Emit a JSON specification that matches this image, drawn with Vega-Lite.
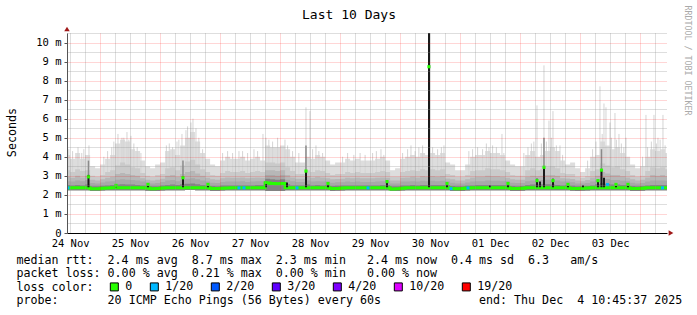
{
  "$schema": "https://vega.github.io/schema/vega-lite/v6.json",
  "width": 600,
  "height": 200,
  "autosize": {"type": "none"},
  "padding": {"left": 67, "top": 33, "right": 30, "bottom": 82},
  "background": "#ffffff",
  "config": {
    "view": {"stroke": null},
    "font": "DejaVu Sans Mono",
    "axis": {"labelFont": "DejaVu Sans Mono", "titleFont": "DejaVu Sans Mono", "titleFontWeight": "normal", "labelColor": "#000000", "titleColor": "#000000"},
    "legend": {"labelFont": "DejaVu Sans Mono"}
  },
  "datasets": {
    "bins": [
      {"t":"2025-11-24T10:00","hi":4.1,"h2":3.3,"h3":2.95,"h4":2.72,"h6":2.52,"lo":2.24,"med":2.36},
      {"t":"2025-11-24T12:00","hi":3.9,"h2":3.2,"h3":2.9,"h4":2.7,"h6":2.5,"lo":2.24,"med":2.37},
      {"t":"2025-11-24T14:00","hi":4.2,"h2":3.35,"h3":3.0,"h4":2.75,"h6":2.52,"lo":2.25,"med":2.37},
      {"t":"2025-11-24T16:00","hi":3.9,"h2":3.25,"h3":2.92,"h4":2.72,"h6":2.5,"lo":2.25,"med":2.37},
      {"t":"2025-11-24T18:00","hi":4.1,"h2":3.3,"h3":3.0,"h4":2.78,"h6":2.55,"lo":2.25,"med":2.38},
      {"t":"2025-11-24T20:00","hi":3.5,"h2":3.0,"h3":2.8,"h4":2.62,"h6":2.46,"lo":2.2,"med":2.32},
      {"t":"2025-11-24T22:00","hi":3.4,"h2":2.95,"h3":2.75,"h4":2.6,"h6":2.45,"lo":2.2,"med":2.32},
      {"t":"2025-11-25T00:00","hi":3.6,"h2":3.05,"h3":2.82,"h4":2.65,"h6":2.48,"lo":2.23,"med":2.35},
      {"t":"2025-11-25T02:00","hi":3.9,"h2":3.2,"h3":2.9,"h4":2.7,"h6":2.5,"lo":2.24,"med":2.36},
      {"t":"2025-11-25T04:00","hi":4.1,"h2":3.3,"h3":2.95,"h4":2.72,"h6":2.52,"lo":2.24,"med":2.37},
      {"t":"2025-11-25T06:00","hi":4.7,"h2":3.55,"h3":3.1,"h4":2.8,"h6":2.55,"lo":2.25,"med":2.37},
      {"t":"2025-11-25T08:00","hi":4.9,"h2":3.7,"h3":3.15,"h4":2.82,"h6":2.56,"lo":2.25,"med":2.38},
      {"t":"2025-11-25T10:00","hi":4.8,"h2":3.6,"h3":3.1,"h4":2.8,"h6":2.55,"lo":2.25,"med":2.37},
      {"t":"2025-11-25T12:00","hi":4.4,"h2":3.45,"h3":3.05,"h4":2.78,"h6":2.54,"lo":2.25,"med":2.37},
      {"t":"2025-11-25T14:00","hi":4.3,"h2":3.4,"h3":3.0,"h4":2.75,"h6":2.52,"lo":2.25,"med":2.37},
      {"t":"2025-11-25T16:00","hi":3.8,"h2":3.15,"h3":2.88,"h4":2.7,"h6":2.5,"lo":2.24,"med":2.37},
      {"t":"2025-11-25T18:00","hi":3.5,"h2":3.0,"h3":2.8,"h4":2.65,"h6":2.48,"lo":2.22,"med":2.36},
      {"t":"2025-11-25T20:00","hi":3.4,"h2":2.95,"h3":2.75,"h4":2.6,"h6":2.45,"lo":2.2,"med":2.32},
      {"t":"2025-11-25T22:00","hi":3.6,"h2":3.05,"h3":2.8,"h4":2.63,"h6":2.46,"lo":2.2,"med":2.33},
      {"t":"2025-11-26T00:00","hi":3.7,"h2":3.1,"h3":2.85,"h4":2.68,"h6":2.5,"lo":2.23,"med":2.36},
      {"t":"2025-11-26T02:00","hi":4.3,"h2":3.4,"h3":3.0,"h4":2.75,"h6":2.52,"lo":2.24,"med":2.37},
      {"t":"2025-11-26T04:00","hi":4.4,"h2":3.45,"h3":3.05,"h4":2.78,"h6":2.54,"lo":2.25,"med":2.37},
      {"t":"2025-11-26T06:00","hi":4.1,"h2":3.3,"h3":2.95,"h4":2.72,"h6":2.52,"lo":2.25,"med":2.37},
      {"t":"2025-11-26T08:00","hi":4.6,"h2":3.55,"h3":3.1,"h4":2.8,"h6":2.56,"lo":2.25,"med":2.38},
      {"t":"2025-11-26T10:00","hi":5.0,"h2":3.75,"h3":3.2,"h4":2.85,"h6":2.58,"lo":2.26,"med":2.38},
      {"t":"2025-11-26T12:00","hi":5.3,"h2":3.85,"h3":3.25,"h4":2.88,"h6":2.6,"lo":2.26,"med":2.38},
      {"t":"2025-11-26T14:00","hi":4.8,"h2":3.6,"h3":3.12,"h4":2.82,"h6":2.56,"lo":2.25,"med":2.37},
      {"t":"2025-11-26T16:00","hi":4.2,"h2":3.35,"h3":3.0,"h4":2.75,"h6":2.52,"lo":2.25,"med":2.37},
      {"t":"2025-11-26T18:00","hi":3.9,"h2":3.2,"h3":2.9,"h4":2.7,"h6":2.5,"lo":2.24,"med":2.37},
      {"t":"2025-11-26T20:00","hi":3.6,"h2":3.05,"h3":2.82,"h4":2.64,"h6":2.47,"lo":2.21,"med":2.33},
      {"t":"2025-11-26T22:00","hi":3.5,"h2":3.0,"h3":2.8,"h4":2.62,"h6":2.46,"lo":2.21,"med":2.33},
      {"t":"2025-11-27T00:00","hi":3.8,"h2":3.15,"h3":2.88,"h4":2.68,"h6":2.5,"lo":2.23,"med":2.35},
      {"t":"2025-11-27T02:00","hi":4.0,"h2":3.25,"h3":2.92,"h4":2.7,"h6":2.5,"lo":2.24,"med":2.36},
      {"t":"2025-11-27T04:00","hi":3.9,"h2":3.2,"h3":2.9,"h4":2.7,"h6":2.5,"lo":2.24,"med":2.37},
      {"t":"2025-11-27T06:00","hi":3.9,"h2":3.2,"h3":2.9,"h4":2.7,"h6":2.5,"lo":2.24,"med":2.37},
      {"t":"2025-11-27T08:00","hi":4.0,"h2":3.25,"h3":2.92,"h4":2.72,"h6":2.5,"lo":2.24,"med":2.37},
      {"t":"2025-11-27T10:00","hi":3.8,"h2":3.15,"h3":2.88,"h4":2.68,"h6":2.5,"lo":2.24,"med":2.37},
      {"t":"2025-11-27T12:00","hi":3.9,"h2":3.2,"h3":2.9,"h4":2.7,"h6":2.5,"lo":2.24,"med":2.37},
      {"t":"2025-11-27T14:00","hi":4.0,"h2":3.25,"h3":2.92,"h4":2.72,"h6":2.52,"lo":2.24,"med":2.37},
      {"t":"2025-11-27T16:00","hi":3.8,"h2":3.2,"h3":2.9,"h4":2.72,"h6":2.52,"lo":2.24,"med":2.38},
      {"t":"2025-11-27T18:00","hi":4.6,"h2":3.7,"h3":3.3,"h4":3.05,"h6":2.85,"lo":2.2,"med":2.62},
      {"t":"2025-11-27T20:00","hi":4.5,"h2":3.7,"h3":3.3,"h4":3.05,"h6":2.82,"lo":2.2,"med":2.6},
      {"t":"2025-11-27T22:00","hi":4.5,"h2":3.65,"h3":3.25,"h4":3.0,"h6":2.8,"lo":2.2,"med":2.58},
      {"t":"2025-11-28T00:00","hi":4.6,"h2":3.7,"h3":3.3,"h4":3.05,"h6":2.82,"lo":2.2,"med":2.6},
      {"t":"2025-11-28T02:00","hi":4.4,"h2":3.45,"h3":3.05,"h4":2.8,"h6":2.56,"lo":2.24,"med":2.38},
      {"t":"2025-11-28T04:00","hi":4.0,"h2":3.25,"h3":2.92,"h4":2.72,"h6":2.5,"lo":2.24,"med":2.37},
      {"t":"2025-11-28T06:00","hi":3.7,"h2":3.1,"h3":2.85,"h4":2.68,"h6":2.5,"lo":2.24,"med":2.37},
      {"t":"2025-11-28T08:00","hi":3.7,"h2":3.1,"h3":2.85,"h4":2.68,"h6":2.5,"lo":2.24,"med":2.37},
      {"t":"2025-11-28T10:00","hi":4.0,"h2":3.3,"h3":2.98,"h4":2.76,"h6":2.55,"lo":2.24,"med":2.37},
      {"t":"2025-11-28T12:00","hi":3.9,"h2":3.2,"h3":2.9,"h4":2.7,"h6":2.5,"lo":2.24,"med":2.37},
      {"t":"2025-11-28T14:00","hi":4.1,"h2":3.3,"h3":2.95,"h4":2.72,"h6":2.52,"lo":2.24,"med":2.37},
      {"t":"2025-11-28T16:00","hi":4.0,"h2":3.25,"h3":2.92,"h4":2.7,"h6":2.5,"lo":2.24,"med":2.37},
      {"t":"2025-11-28T18:00","hi":3.8,"h2":3.15,"h3":2.88,"h4":2.7,"h6":2.52,"lo":2.24,"med":2.38},
      {"t":"2025-11-28T20:00","hi":3.6,"h2":3.05,"h3":2.82,"h4":2.64,"h6":2.47,"lo":2.21,"med":2.33},
      {"t":"2025-11-28T22:00","hi":3.7,"h2":3.1,"h3":2.84,"h4":2.66,"h6":2.48,"lo":2.22,"med":2.34},
      {"t":"2025-11-29T00:00","hi":3.7,"h2":3.1,"h3":2.85,"h4":2.67,"h6":2.49,"lo":2.23,"med":2.36},
      {"t":"2025-11-29T02:00","hi":3.9,"h2":3.2,"h3":2.9,"h4":2.7,"h6":2.5,"lo":2.24,"med":2.37},
      {"t":"2025-11-29T04:00","hi":3.8,"h2":3.15,"h3":2.88,"h4":2.68,"h6":2.5,"lo":2.24,"med":2.37},
      {"t":"2025-11-29T06:00","hi":3.9,"h2":3.2,"h3":2.9,"h4":2.7,"h6":2.5,"lo":2.24,"med":2.37},
      {"t":"2025-11-29T08:00","hi":3.8,"h2":3.15,"h3":2.88,"h4":2.68,"h6":2.5,"lo":2.24,"med":2.37},
      {"t":"2025-11-29T10:00","hi":3.8,"h2":3.15,"h3":2.88,"h4":2.68,"h6":2.5,"lo":2.24,"med":2.37},
      {"t":"2025-11-29T12:00","hi":3.8,"h2":3.15,"h3":2.88,"h4":2.68,"h6":2.5,"lo":2.24,"med":2.37},
      {"t":"2025-11-29T14:00","hi":3.9,"h2":3.2,"h3":2.9,"h4":2.7,"h6":2.5,"lo":2.24,"med":2.37},
      {"t":"2025-11-29T16:00","hi":4.0,"h2":3.25,"h3":2.92,"h4":2.72,"h6":2.52,"lo":2.24,"med":2.37},
      {"t":"2025-11-29T18:00","hi":3.8,"h2":3.2,"h3":2.9,"h4":2.72,"h6":2.52,"lo":2.24,"med":2.38},
      {"t":"2025-11-29T20:00","hi":3.3,"h2":2.95,"h3":2.75,"h4":2.6,"h6":2.45,"lo":2.2,"med":2.31},
      {"t":"2025-11-29T22:00","hi":3.4,"h2":2.95,"h3":2.75,"h4":2.6,"h6":2.45,"lo":2.2,"med":2.32},
      {"t":"2025-11-30T00:00","hi":3.9,"h2":3.2,"h3":2.9,"h4":2.7,"h6":2.5,"lo":2.23,"med":2.35},
      {"t":"2025-11-30T02:00","hi":4.0,"h2":3.25,"h3":2.92,"h4":2.7,"h6":2.5,"lo":2.24,"med":2.37},
      {"t":"2025-11-30T04:00","hi":4.1,"h2":3.3,"h3":2.95,"h4":2.72,"h6":2.52,"lo":2.24,"med":2.37},
      {"t":"2025-11-30T06:00","hi":4.0,"h2":3.25,"h3":2.92,"h4":2.7,"h6":2.5,"lo":2.24,"med":2.37},
      {"t":"2025-11-30T08:00","hi":4.2,"h2":3.35,"h3":2.98,"h4":2.74,"h6":2.52,"lo":2.24,"med":2.37},
      {"t":"2025-11-30T10:00","hi":4.1,"h2":3.3,"h3":2.95,"h4":2.72,"h6":2.52,"lo":2.24,"med":2.37},
      {"t":"2025-11-30T12:00","hi":4.2,"h2":3.35,"h3":2.98,"h4":2.74,"h6":2.52,"lo":2.24,"med":2.37},
      {"t":"2025-11-30T14:00","hi":4.1,"h2":3.3,"h3":2.95,"h4":2.72,"h6":2.52,"lo":2.24,"med":2.37},
      {"t":"2025-11-30T16:00","hi":4.2,"h2":3.35,"h3":2.98,"h4":2.74,"h6":2.52,"lo":2.24,"med":2.37},
      {"t":"2025-11-30T18:00","hi":3.7,"h2":3.1,"h3":2.86,"h4":2.7,"h6":2.52,"lo":2.24,"med":2.38},
      {"t":"2025-11-30T20:00","hi":3.6,"h2":3.05,"h3":2.82,"h4":2.64,"h6":2.47,"lo":2.21,"med":2.33},
      {"t":"2025-11-30T22:00","hi":3.3,"h2":2.95,"h3":2.75,"h4":2.6,"h6":2.45,"lo":2.2,"med":2.32},
      {"t":"2025-12-01T00:00","hi":3.3,"h2":2.95,"h3":2.75,"h4":2.6,"h6":2.45,"lo":2.21,"med":2.33},
      {"t":"2025-12-01T02:00","hi":3.6,"h2":3.05,"h3":2.82,"h4":2.65,"h6":2.48,"lo":2.23,"med":2.36},
      {"t":"2025-12-01T04:00","hi":4.0,"h2":3.25,"h3":2.92,"h4":2.7,"h6":2.5,"lo":2.24,"med":2.37},
      {"t":"2025-12-01T06:00","hi":4.1,"h2":3.3,"h3":2.95,"h4":2.72,"h6":2.52,"lo":2.24,"med":2.37},
      {"t":"2025-12-01T08:00","hi":4.1,"h2":3.3,"h3":2.95,"h4":2.72,"h6":2.52,"lo":2.24,"med":2.37},
      {"t":"2025-12-01T10:00","hi":4.3,"h2":3.4,"h3":3.0,"h4":2.75,"h6":2.52,"lo":2.24,"med":2.37},
      {"t":"2025-12-01T12:00","hi":4.2,"h2":3.35,"h3":2.98,"h4":2.74,"h6":2.52,"lo":2.24,"med":2.37},
      {"t":"2025-12-01T14:00","hi":4.2,"h2":3.35,"h3":2.98,"h4":2.74,"h6":2.52,"lo":2.24,"med":2.37},
      {"t":"2025-12-01T16:00","hi":4.1,"h2":3.3,"h3":2.95,"h4":2.72,"h6":2.52,"lo":2.24,"med":2.37},
      {"t":"2025-12-01T18:00","hi":3.8,"h2":3.2,"h3":2.9,"h4":2.72,"h6":2.52,"lo":2.24,"med":2.38},
      {"t":"2025-12-01T20:00","hi":3.6,"h2":3.05,"h3":2.82,"h4":2.64,"h6":2.47,"lo":2.21,"med":2.33},
      {"t":"2025-12-01T22:00","hi":3.5,"h2":3.0,"h3":2.8,"h4":2.62,"h6":2.46,"lo":2.21,"med":2.33},
      {"t":"2025-12-02T00:00","hi":3.5,"h2":3.0,"h3":2.8,"h4":2.63,"h6":2.47,"lo":2.22,"med":2.35},
      {"t":"2025-12-02T02:00","hi":4.1,"h2":3.3,"h3":2.95,"h4":2.72,"h6":2.52,"lo":2.24,"med":2.37},
      {"t":"2025-12-02T04:00","hi":4.3,"h2":3.4,"h3":3.0,"h4":2.76,"h6":2.54,"lo":2.24,"med":2.37},
      {"t":"2025-12-02T06:00","hi":4.0,"h2":3.3,"h3":2.98,"h4":2.76,"h6":2.55,"lo":2.24,"med":2.38},
      {"t":"2025-12-02T08:00","hi":4.1,"h2":3.35,"h3":3.0,"h4":2.78,"h6":2.56,"lo":2.24,"med":2.38},
      {"t":"2025-12-02T10:00","hi":4.3,"h2":3.45,"h3":3.05,"h4":2.8,"h6":2.56,"lo":2.24,"med":2.38},
      {"t":"2025-12-02T12:00","hi":4.5,"h2":3.5,"h3":3.05,"h4":2.78,"h6":2.55,"lo":2.24,"med":2.37},
      {"t":"2025-12-02T14:00","hi":4.3,"h2":3.4,"h3":3.0,"h4":2.75,"h6":2.52,"lo":2.24,"med":2.37},
      {"t":"2025-12-02T16:00","hi":3.8,"h2":3.15,"h3":2.88,"h4":2.7,"h6":2.5,"lo":2.24,"med":2.37},
      {"t":"2025-12-02T18:00","hi":3.6,"h2":3.1,"h3":2.86,"h4":2.7,"h6":2.52,"lo":2.24,"med":2.38},
      {"t":"2025-12-02T20:00","hi":3.7,"h2":3.1,"h3":2.84,"h4":2.66,"h6":2.48,"lo":2.22,"med":2.34},
      {"t":"2025-12-02T22:00","hi":3.4,"h2":2.95,"h3":2.75,"h4":2.6,"h6":2.45,"lo":2.21,"med":2.33},
      {"t":"2025-12-03T00:00","hi":3.2,"h2":2.9,"h3":2.72,"h4":2.6,"h6":2.46,"lo":2.22,"med":2.35},
      {"t":"2025-12-03T02:00","hi":3.4,"h2":2.98,"h3":2.78,"h4":2.62,"h6":2.47,"lo":2.23,"med":2.36},
      {"t":"2025-12-03T04:00","hi":4.0,"h2":3.25,"h3":2.92,"h4":2.7,"h6":2.5,"lo":2.24,"med":2.37},
      {"t":"2025-12-03T06:00","hi":4.1,"h2":3.35,"h3":3.0,"h4":2.78,"h6":2.56,"lo":2.24,"med":2.38},
      {"t":"2025-12-03T08:00","hi":4.8,"h2":3.65,"h3":3.2,"h4":2.9,"h6":2.62,"lo":2.24,"med":2.38},
      {"t":"2025-12-03T10:00","hi":4.6,"h2":3.55,"h3":3.12,"h4":2.84,"h6":2.58,"lo":2.24,"med":2.38},
      {"t":"2025-12-03T12:00","hi":4.4,"h2":3.45,"h3":3.05,"h4":2.78,"h6":2.54,"lo":2.24,"med":2.37},
      {"t":"2025-12-03T14:00","hi":4.5,"h2":3.5,"h3":3.05,"h4":2.78,"h6":2.54,"lo":2.24,"med":2.37},
      {"t":"2025-12-03T16:00","hi":4.2,"h2":3.35,"h3":2.98,"h4":2.74,"h6":2.52,"lo":2.24,"med":2.37},
      {"t":"2025-12-03T18:00","hi":4.0,"h2":3.25,"h3":2.92,"h4":2.72,"h6":2.52,"lo":2.24,"med":2.38},
      {"t":"2025-12-03T20:00","hi":3.6,"h2":3.05,"h3":2.82,"h4":2.64,"h6":2.47,"lo":2.21,"med":2.33},
      {"t":"2025-12-03T22:00","hi":3.4,"h2":2.95,"h3":2.75,"h4":2.6,"h6":2.45,"lo":2.21,"med":2.33},
      {"t":"2025-12-04T00:00","hi":3.5,"h2":3.0,"h3":2.8,"h4":2.63,"h6":2.47,"lo":2.22,"med":2.35},
      {"t":"2025-12-04T02:00","hi":4.0,"h2":3.25,"h3":2.92,"h4":2.7,"h6":2.5,"lo":2.24,"med":2.37},
      {"t":"2025-12-04T04:00","hi":4.4,"h2":3.45,"h3":3.05,"h4":2.76,"h6":2.52,"lo":2.24,"med":2.37},
      {"t":"2025-12-04T06:00","hi":4.3,"h2":3.4,"h3":3.0,"h4":2.75,"h6":2.52,"lo":2.24,"med":2.37},
      {"t":"2025-12-04T08:00","hi":4.4,"h2":3.45,"h3":3.05,"h4":2.76,"h6":2.52,"lo":2.24,"med":2.37},
      {"t":"2025-12-04T10:00","hi":4.2,"h2":3.35,"h3":2.98,"h4":2.74,"h6":2.52,"lo":2.24,"med":2.37},
      {"t":"2025-12-04T12:00","hi":4.2,"h2":3.35,"h3":2.98,"h4":2.74,"h6":2.52,"lo":2.24,"med":2.37}
    ],
    "spikes": [
      {"t":"2025-11-24T11:30","k":"light","lo":2.3,"hi":4.4},
      {"t":"2025-11-24T13:00","k":"light","lo":2.3,"hi":4.3},
      {"t":"2025-11-24T15:10","k":"light","lo":2.3,"hi":4.5},
      {"t":"2025-11-24T16:40","k":"light","lo":2.3,"hi":4.2},
      {"t":"2025-11-24T17:30","k":"light","lo":2.3,"hi":4.4},
      {"t":"2025-11-24T19:33","k":"light","lo":2.3,"hi":4.6},
      {"t":"2025-11-25T01:30","k":"light","lo":2.3,"hi":4.0},
      {"t":"2025-11-25T03:00","k":"light","lo":2.3,"hi":4.3},
      {"t":"2025-11-25T04:40","k":"light","lo":2.3,"hi":4.5},
      {"t":"2025-11-25T05:30","k":"light","lo":2.3,"hi":4.8},
      {"t":"2025-11-25T07:09","k":"light","lo":2.3,"hi":5.2},
      {"t":"2025-11-25T08:45","k":"light","lo":2.3,"hi":5.0},
      {"t":"2025-11-25T09:30","k":"light","lo":2.3,"hi":5.0},
      {"t":"2025-11-25T10:45","k":"light","lo":2.3,"hi":5.3},
      {"t":"2025-11-25T11:30","k":"light","lo":2.3,"hi":4.9},
      {"t":"2025-11-25T12:21","k":"light","lo":2.3,"hi":5.1},
      {"t":"2025-11-25T13:30","k":"light","lo":2.3,"hi":4.7},
      {"t":"2025-11-25T14:50","k":"light","lo":2.3,"hi":4.5},
      {"t":"2025-11-25T16:20","k":"light","lo":2.3,"hi":4.2},
      {"t":"2025-11-26T02:30","k":"light","lo":2.3,"hi":4.6},
      {"t":"2025-11-26T03:40","k":"light","lo":2.3,"hi":4.7},
      {"t":"2025-11-26T05:00","k":"light","lo":2.3,"hi":4.5},
      {"t":"2025-11-26T06:45","k":"light","lo":2.3,"hi":4.8},
      {"t":"2025-11-26T07:30","k":"light","lo":2.3,"hi":4.9},
      {"t":"2025-11-26T08:45","k":"light","lo":2.3,"hi":5.2},
      {"t":"2025-11-26T10:21","k":"light","lo":2.3,"hi":5.4},
      {"t":"2025-11-26T11:00","k":"light","lo":2.3,"hi":5.6},
      {"t":"2025-11-26T12:21","k":"light","lo":2.3,"hi":5.8},
      {"t":"2025-11-26T13:09","k":"light","lo":2.3,"hi":6.0},
      {"t":"2025-11-26T14:21","k":"light","lo":2.3,"hi":5.5},
      {"t":"2025-11-26T15:30","k":"light","lo":2.3,"hi":5.0},
      {"t":"2025-11-26T17:00","k":"light","lo":2.3,"hi":4.4},
      {"t":"2025-11-27T01:00","k":"light","lo":2.3,"hi":4.2},
      {"t":"2025-11-27T03:00","k":"light","lo":2.3,"hi":4.3},
      {"t":"2025-11-27T05:00","k":"light","lo":2.3,"hi":4.2},
      {"t":"2025-11-27T07:33","k":"light","lo":2.3,"hi":4.3},
      {"t":"2025-11-27T09:00","k":"light","lo":2.3,"hi":4.3},
      {"t":"2025-11-27T11:00","k":"light","lo":2.3,"hi":4.2},
      {"t":"2025-11-27T13:33","k":"light","lo":2.3,"hi":4.4},
      {"t":"2025-11-27T15:00","k":"light","lo":2.3,"hi":4.3},
      {"t":"2025-11-27T17:09","k":"light","lo":2.3,"hi":5.2},
      {"t":"2025-11-27T18:21","k":"light","lo":2.3,"hi":5.0},
      {"t":"2025-11-27T19:30","k":"light","lo":2.3,"hi":4.9},
      {"t":"2025-11-27T21:00","k":"light","lo":2.3,"hi":4.8},
      {"t":"2025-11-27T23:00","k":"light","lo":2.3,"hi":5.0},
      {"t":"2025-11-28T01:57","k":"light","lo":2.3,"hi":4.9},
      {"t":"2025-11-28T03:00","k":"light","lo":2.3,"hi":4.6},
      {"t":"2025-11-28T05:00","k":"light","lo":2.3,"hi":4.3},
      {"t":"2025-11-28T07:30","k":"light","lo":2.3,"hi":4.2},
      {"t":"2025-11-28T10:21","k":"light","lo":2.3,"hi":6.6},
      {"t":"2025-11-28T11:57","k":"light","lo":2.3,"hi":6.4},
      {"t":"2025-11-28T13:00","k":"light","lo":2.3,"hi":4.4},
      {"t":"2025-11-28T14:21","k":"light","lo":2.3,"hi":4.6},
      {"t":"2025-11-28T15:30","k":"light","lo":2.3,"hi":4.3},
      {"t":"2025-11-28T17:00","k":"light","lo":2.3,"hi":4.2},
      {"t":"2025-11-29T01:00","k":"light","lo":2.3,"hi":4.0},
      {"t":"2025-11-29T03:00","k":"light","lo":2.3,"hi":4.2},
      {"t":"2025-11-29T05:30","k":"light","lo":2.3,"hi":4.1},
      {"t":"2025-11-29T08:00","k":"light","lo":2.3,"hi":4.2},
      {"t":"2025-11-29T10:00","k":"light","lo":2.3,"hi":4.1},
      {"t":"2025-11-29T13:00","k":"light","lo":2.3,"hi":4.2},
      {"t":"2025-11-29T14:30","k":"light","lo":2.3,"hi":4.3},
      {"t":"2025-11-29T16:21","k":"light","lo":2.3,"hi":4.4},
      {"t":"2025-11-29T17:30","k":"light","lo":2.3,"hi":4.1},
      {"t":"2025-11-30T01:00","k":"light","lo":2.3,"hi":4.2},
      {"t":"2025-11-30T03:00","k":"light","lo":2.3,"hi":4.4},
      {"t":"2025-11-30T04:21","k":"light","lo":2.3,"hi":4.6},
      {"t":"2025-11-30T06:00","k":"light","lo":2.3,"hi":4.3},
      {"t":"2025-11-30T07:30","k":"light","lo":2.3,"hi":4.5},
      {"t":"2025-11-30T09:00","k":"light","lo":2.3,"hi":4.6},
      {"t":"2025-11-30T13:00","k":"light","lo":2.3,"hi":4.5},
      {"t":"2025-11-30T15:00","k":"light","lo":2.3,"hi":4.4},
      {"t":"2025-11-30T16:30","k":"light","lo":2.3,"hi":4.5},
      {"t":"2025-11-30T17:33","k":"light","lo":2.3,"hi":4.6},
      {"t":"2025-12-01T03:30","k":"light","lo":2.3,"hi":4.3},
      {"t":"2025-12-01T05:00","k":"light","lo":2.3,"hi":4.4},
      {"t":"2025-12-01T07:00","k":"light","lo":2.3,"hi":4.5},
      {"t":"2025-12-01T09:00","k":"light","lo":2.3,"hi":4.4},
      {"t":"2025-12-01T10:30","k":"light","lo":2.3,"hi":4.7},
      {"t":"2025-12-01T11:33","k":"light","lo":2.3,"hi":4.5},
      {"t":"2025-12-01T13:00","k":"light","lo":2.3,"hi":4.6},
      {"t":"2025-12-01T14:30","k":"light","lo":2.3,"hi":4.5},
      {"t":"2025-12-01T16:45","k":"light","lo":2.3,"hi":5.2},
      {"t":"2025-12-01T17:30","k":"light","lo":2.3,"hi":4.2},
      {"t":"2025-12-02T01:30","k":"light","lo":2.3,"hi":4.2},
      {"t":"2025-12-02T03:09","k":"light","lo":2.3,"hi":4.5},
      {"t":"2025-12-02T04:30","k":"light","lo":2.3,"hi":4.7},
      {"t":"2025-12-02T05:30","k":"light","lo":2.3,"hi":4.8},
      {"t":"2025-12-02T06:45","k":"light","lo":2.3,"hi":6.7},
      {"t":"2025-12-02T08:30","k":"light","lo":2.3,"hi":4.7},
      {"t":"2025-12-02T09:33","k":"light","lo":2.3,"hi":8.8},
      {"t":"2025-12-02T10:30","k":"light","lo":2.3,"hi":4.8},
      {"t":"2025-12-02T11:33","k":"light","lo":2.3,"hi":5.9},
      {"t":"2025-12-02T12:30","k":"light","lo":2.3,"hi":5.0},
      {"t":"2025-12-02T13:09","k":"light","lo":2.3,"hi":6.4},
      {"t":"2025-12-02T14:30","k":"light","lo":2.3,"hi":4.6},
      {"t":"2025-12-02T15:57","k":"light","lo":2.3,"hi":4.6},
      {"t":"2025-12-02T17:00","k":"light","lo":2.3,"hi":4.1},
      {"t":"2025-12-03T03:00","k":"light","lo":2.3,"hi":3.8},
      {"t":"2025-12-03T05:00","k":"light","lo":2.3,"hi":4.4},
      {"t":"2025-12-03T06:21","k":"light","lo":2.3,"hi":4.8},
      {"t":"2025-12-03T07:57","k":"light","lo":2.3,"hi":7.7},
      {"t":"2025-12-03T08:50","k":"light","lo":2.3,"hi":5.2},
      {"t":"2025-12-03T09:33","k":"light","lo":2.3,"hi":6.8},
      {"t":"2025-12-03T10:21","k":"light","lo":2.3,"hi":6.6},
      {"t":"2025-12-03T11:57","k":"light","lo":2.3,"hi":5.8},
      {"t":"2025-12-03T12:30","k":"light","lo":2.3,"hi":5.0},
      {"t":"2025-12-03T13:57","k":"light","lo":2.3,"hi":6.3},
      {"t":"2025-12-03T14:30","k":"light","lo":2.3,"hi":4.9},
      {"t":"2025-12-03T15:33","k":"light","lo":2.3,"hi":5.2},
      {"t":"2025-12-03T16:30","k":"light","lo":2.3,"hi":4.7},
      {"t":"2025-12-03T17:30","k":"light","lo":2.3,"hi":4.5},
      {"t":"2025-12-03T18:21","k":"light","lo":2.3,"hi":5.0},
      {"t":"2025-12-04T01:00","k":"light","lo":2.3,"hi":4.0},
      {"t":"2025-12-04T02:21","k":"light","lo":2.3,"hi":6.2},
      {"t":"2025-12-04T03:00","k":"light","lo":2.3,"hi":4.5},
      {"t":"2025-12-04T04:30","k":"light","lo":2.3,"hi":4.8},
      {"t":"2025-12-04T05:33","k":"light","lo":2.3,"hi":6.2},
      {"t":"2025-12-04T06:30","k":"light","lo":2.3,"hi":4.7},
      {"t":"2025-12-04T07:09","k":"light","lo":2.3,"hi":5.0},
      {"t":"2025-12-04T08:00","k":"light","lo":2.3,"hi":4.9},
      {"t":"2025-12-04T09:09","k":"light","lo":2.3,"hi":6.2},
      {"t":"2025-12-04T10:00","k":"light","lo":2.3,"hi":4.6},
      {"t":"2025-11-24T19:21","k":"mid","lo":2.9,"hi":3.8},
      {"t":"2025-11-26T09:09","k":"mid","lo":2.9,"hi":3.8},
      {"t":"2025-11-28T10:21","k":"mid","lo":3.2,"hi":4.6},
      {"t":"2025-12-02T09:33","k":"mid","lo":3.4,"hi":5.0},
      {"t":"2025-12-03T08:33","k":"mid","lo":3.2,"hi":4.4},
      {"t":"2025-11-24T19:21","k":"dark","lo":2.4,"hi":3.05,"med":2.95},
      {"t":"2025-11-25T06:21","k":"dark","lo":2.4,"hi":2.55,"med":2.5},
      {"t":"2025-11-25T19:09","k":"dark","lo":2.4,"hi":2.6,"med":2.55},
      {"t":"2025-11-26T09:09","k":"dark","lo":2.4,"hi":2.95,"med":2.9},
      {"t":"2025-11-26T19:09","k":"dark","lo":2.4,"hi":2.6,"med":2.55},
      {"t":"2025-11-27T18:21","k":"dark","lo":2.4,"hi":2.7,"med":2.65},
      {"t":"2025-11-28T02:45","k":"dark","lo":2.4,"hi":2.65},
      {"t":"2025-11-28T10:21","k":"dark","lo":2.4,"hi":3.3,"med":3.25},
      {"t":"2025-11-28T19:09","k":"dark","lo":2.4,"hi":2.65,"med":2.6},
      {"t":"2025-11-29T18:45","k":"dark","lo":2.4,"hi":2.75,"med":2.7},
      {"t":"2025-11-30T11:33","k":"dark","lo":2.4,"hi":11,"med":8.73},
      {"t":"2025-11-30T18:45","k":"dark","lo":2.4,"hi":2.65,"med":2.6},
      {"t":"2025-12-01T11:57","k":"dark","lo":2.4,"hi":2.5},
      {"t":"2025-12-01T19:09","k":"dark","lo":2.4,"hi":2.65,"med":2.6},
      {"t":"2025-12-02T06:45","k":"dark","lo":2.4,"hi":2.85,"med":2.75},
      {"t":"2025-12-02T07:57","k":"dark","lo":2.4,"hi":2.7},
      {"t":"2025-12-02T09:33","k":"dark","lo":2.4,"hi":3.5,"med":3.45},
      {"t":"2025-12-02T13:09","k":"dark","lo":2.4,"hi":2.85,"med":2.75},
      {"t":"2025-12-02T19:09","k":"dark","lo":2.4,"hi":2.6,"med":2.55},
      {"t":"2025-12-03T01:09","k":"dark","lo":2.4,"hi":2.5},
      {"t":"2025-12-03T07:09","k":"dark","lo":2.4,"hi":2.8,"med":2.75},
      {"t":"2025-12-03T08:33","k":"dark","lo":2.4,"hi":3.35,"med":3.3},
      {"t":"2025-12-03T09:33","k":"dark","lo":2.4,"hi":2.9},
      {"t":"2025-12-03T14:21","k":"dark","lo":2.4,"hi":2.6,"med":2.55},
      {"t":"2025-12-03T19:09","k":"dark","lo":2.4,"hi":2.6,"med":2.55}
    ],
    "loss": [
      {"t":"2025-11-24T11:09","med":2.37,"loss":"1/20"},
      {"t":"2025-11-27T07:33","med":2.37,"loss":"1/20"},
      {"t":"2025-11-27T09:33","med":2.37,"loss":"1/20"},
      {"t":"2025-11-28T06:45","med":2.37,"loss":"1/20"},
      {"t":"2025-11-29T11:09","med":2.37,"loss":"1/20"},
      {"t":"2025-11-30T20:21","med":2.33,"loss":"1/20"},
      {"t":"2025-12-01T03:09","med":2.37,"loss":"1/20"},
      {"t":"2025-12-03T10:57","med":2.54,"loss":"1/20"},
      {"t":"2025-12-04T08:57","med":2.37,"loss":"1/20"}
    ],
    "arrows": [
      {"t":"2025-11-24T10:45:37","v":10.5,"dir":"up"},
      {"t":"2025-12-04T10:45:37","v":0,"dir":"right"}
    ]
  },
  "layer": [
    {
      "data": {"name": "bins"},
      "mark": {"type": "area", "interpolate": "step-after", "color": "#dddddd", "clip": true},
      "encoding": {
        "x": {"field": "t", "type": "temporal", "scale": {"domain": [{"year":2025,"month":11,"date":24,"hours":10,"minutes":45,"seconds":37},{"year":2025,"month":12,"date":4,"hours":10,"minutes":45,"seconds":37}]},
          "axis": {"orient":"bottom","values":[
            {"year":2025,"month":11,"date":24,"hours":12},{"year":2025,"month":11,"date":24,"hours":18},
            {"year":2025,"month":11,"date":25,"hours":6},{"year":2025,"month":11,"date":25,"hours":12},{"year":2025,"month":11,"date":25,"hours":18},
            {"year":2025,"month":11,"date":26,"hours":6},{"year":2025,"month":11,"date":26,"hours":12},{"year":2025,"month":11,"date":26,"hours":18},
            {"year":2025,"month":11,"date":27,"hours":6},{"year":2025,"month":11,"date":27,"hours":12},{"year":2025,"month":11,"date":27,"hours":18},
            {"year":2025,"month":11,"date":28,"hours":6},{"year":2025,"month":11,"date":28,"hours":12},{"year":2025,"month":11,"date":28,"hours":18},
            {"year":2025,"month":11,"date":29,"hours":6},{"year":2025,"month":11,"date":29,"hours":12},{"year":2025,"month":11,"date":29,"hours":18},
            {"year":2025,"month":11,"date":30,"hours":6},{"year":2025,"month":11,"date":30,"hours":12},{"year":2025,"month":11,"date":30,"hours":18},
            {"year":2025,"month":12,"date":1,"hours":6},{"year":2025,"month":12,"date":1,"hours":12},{"year":2025,"month":12,"date":1,"hours":18},
            {"year":2025,"month":12,"date":2,"hours":6},{"year":2025,"month":12,"date":2,"hours":12},{"year":2025,"month":12,"date":2,"hours":18},
            {"year":2025,"month":12,"date":3,"hours":6},{"year":2025,"month":12,"date":3,"hours":12},{"year":2025,"month":12,"date":3,"hours":18},
            {"year":2025,"month":12,"date":4,"hours":6}],
            "grid":true,"gridColor":"#909090","gridOpacity":0.6,"gridDash":[1,1],"domain":false,"ticks":false,"labels":false,"title":null,"zindex":1}},
        "y": {"field": "lo", "type": "quantitative", "scale": {"domain": [0, 10.5], "nice": false, "zero": false},
          "axis": {"orient":"left","values":[0.5,1.5,2.5,3.5,4.5,5.5,6.5,7.5,8.5,9.5,10.5],"grid":true,"gridColor":"#909090","gridOpacity":0.6,"gridDash":[1,1],"domain":false,"ticks":false,"labels":false,"title":null,"zindex":1}},
        "y2": {"field": "hi"}
      }
    },
    {
      "data": {"name": "spikes"},
      "transform": [{"filter": "datum.k == 'light'"}],
      "mark": {"type": "rule", "color": "#d4d4d4", "strokeWidth": 1, "clip": true},
      "encoding": {
        "x": {"field": "t", "type": "temporal", "scale": {"domain": [{"year":2025,"month":11,"date":24,"hours":10,"minutes":45,"seconds":37},{"year":2025,"month":12,"date":4,"hours":10,"minutes":45,"seconds":37}]},
          "axis": {"orient":"bottom","values":[
            {"year":2025,"month":11,"date":25},{"year":2025,"month":11,"date":26},{"year":2025,"month":11,"date":27},{"year":2025,"month":11,"date":28},{"year":2025,"month":11,"date":29},
            {"year":2025,"month":11,"date":30},{"year":2025,"month":12,"date":1},{"year":2025,"month":12,"date":2},{"year":2025,"month":12,"date":3},{"year":2025,"month":12,"date":4}],
            "grid":true,"gridColor":"#ff0000","gridOpacity":0.32,"gridDash":[1,1],"domain":true,"domainColor":"#000000","domainWidth":1,"ticks":false,"labels":false,
            "title": [
              "median rtt:\u00a0\u00a02.4 ms avg\u00a0\u00a08.7 ms max\u00a0\u00a02.3 ms min\u00a0\u00a0\u00a02.4 ms now\u00a0\u00a00.4 ms sd\u00a0\u00a06.3\u00a0\u00a0\u00a0am/s",
              "packet loss: 0.00 % avg\u00a0\u00a00.21 % max\u00a0\u00a00.00 % min\u00a0\u00a0\u00a00.00 % now",
              "loss color:",
              "probe:\u00a0\u00a0\u00a0\u00a0\u00a0\u00a0\u00a020 ICMP Echo Pings (56 Bytes) every 60s\u00a0\u00a0\u00a0\u00a0\u00a0\u00a0\u00a0\u00a0\u00a0\u00a0\u00a0\u00a0\u00a0\u00a0end: Thu Dec\u00a0\u00a04 10:45:37 2025"
            ],
            "titleX": -51, "titleY": 30, "titleAlign": "left", "titleBaseline": "alphabetic", "titleFontSize": 11.65, "titleLineHeight": 13.5, "zindex": 1}},
        "y": {"field": "lo", "type": "quantitative", "scale": {"domain": [0, 10.5], "nice": false, "zero": false},
          "axis": {"orient":"left","values":[0,1,2,3,4,5,6,7,8,9,10],"grid":true,"gridColor":"#ff0000","gridOpacity":0.32,"gridDash":[1,1],"domain":true,"domainColor":"#555555","ticks":true,"tickSize":3,"tickColor":"#555555","labels":true,"labelExpr":"datum.value == 0 ? '0' : datum.value + ' m'","labelFontSize":10.5,"labelPadding":3,
            "title":"Seconds","titleX":-56,"titleY":99,"titleAngle":270,"titleAlign":"center","titleBaseline":"middle","titleFontSize":11.7,"zindex":1}},
        "y2": {"field": "hi"}
      }
    },
    {
      "data": {"name": "bins"},
      "mark": {"type": "area", "interpolate": "step-after", "color": "#cacaca", "clip": true},
      "encoding": {
        "x": {"field": "t", "type": "temporal", "scale": {"domain": [{"year":2025,"month":11,"date":24,"hours":10,"minutes":45,"seconds":37},{"year":2025,"month":12,"date":4,"hours":10,"minutes":45,"seconds":37}]},
          "axis": {"orient":"bottom","values":[
            {"year":2025,"month":11,"date":24,"hours":12},{"year":2025,"month":11,"date":25,"hours":12},{"year":2025,"month":11,"date":26,"hours":12},{"year":2025,"month":11,"date":27,"hours":12},{"year":2025,"month":11,"date":28,"hours":12},
            {"year":2025,"month":11,"date":29,"hours":12},{"year":2025,"month":11,"date":30,"hours":12},{"year":2025,"month":12,"date":1,"hours":12},{"year":2025,"month":12,"date":2,"hours":12},{"year":2025,"month":12,"date":3,"hours":12}],
            "format":"%d %b","labelOverlap":false,"labelFlush":false,"labelFontSize":10.5,"labelPadding":5,"grid":false,"domain":false,"ticks":false,"title":null}},
        "y": {"field": "lo", "type": "quantitative", "scale": {"domain": [0, 10.5], "nice": false, "zero": false},
          "axis": {"orient":"right","labels":false,"ticks":false,"domain":false,"grid":false,"title":"RRDTOOL / TOBI OETIKER","titleAngle":90,"titleX":19,"titleY":27,"titleAlign":"center","titleBaseline":"middle","titleFontSize":8.3,"titleColor":"#aaaaaa"}},
        "y2": {"field": "h2"}
      }
    },
    {
      "data": {"name": "bins"},
      "mark": {"type": "area", "interpolate": "step-after", "color": "#b7b7b7", "clip": true},
      "encoding": {
        "x": {"field": "t", "type": "temporal", "scale": {"domain": [{"year":2025,"month":11,"date":24,"hours":10,"minutes":45,"seconds":37},{"year":2025,"month":12,"date":4,"hours":10,"minutes":45,"seconds":37}]},
          "axis": {"orient":"top","labels":false,"ticks":false,"domain":false,"grid":false,"title":"Last 10 Days","titleX":281.5,"titleY":-15,"titleAlign":"center","titleBaseline":"alphabetic","titleFontSize":13}},
        "y": {"field": "lo", "type": "quantitative", "scale": {"domain": [0, 10.5], "nice": false, "zero": false}, "axis": null},
        "y2": {"field": "h3"}
      }
    },
    {
      "data": {"name": "bins"},
      "mark": {"type": "area", "interpolate": "step-after", "color": "#a8a8a8", "clip": true},
      "encoding": {
        "x": {"field": "t", "type": "temporal", "scale": {"domain": [{"year":2025,"month":11,"date":24,"hours":10,"minutes":45,"seconds":37},{"year":2025,"month":12,"date":4,"hours":10,"minutes":45,"seconds":37}]}, "axis": null},
        "y": {"field": "lo", "type": "quantitative", "scale": {"domain": [0, 10.5], "nice": false, "zero": false}, "axis": null},
        "y2": {"field": "h4"}
      }
    },
    {
      "data": {"name": "bins"},
      "mark": {"type": "area", "interpolate": "step-after", "color": "#828282", "clip": true},
      "encoding": {
        "x": {"field": "t", "type": "temporal", "scale": {"domain": [{"year":2025,"month":11,"date":24,"hours":10,"minutes":45,"seconds":37},{"year":2025,"month":12,"date":4,"hours":10,"minutes":45,"seconds":37}]}, "axis": null},
        "y": {"field": "lo", "type": "quantitative", "scale": {"domain": [0, 10.5], "nice": false, "zero": false}, "axis": null},
        "y2": {"field": "h6"}
      }
    },
    {
      "data": {"name": "spikes"},
      "transform": [{"filter": "datum.k == 'mid'"}],
      "mark": {"type": "rule", "color": "#8a8a8a", "strokeWidth": 1.5, "clip": true},
      "encoding": {
        "x": {"field": "t", "type": "temporal", "scale": {"domain": [{"year":2025,"month":11,"date":24,"hours":10,"minutes":45,"seconds":37},{"year":2025,"month":12,"date":4,"hours":10,"minutes":45,"seconds":37}]}, "axis": null},
        "y": {"field": "lo", "type": "quantitative", "scale": {"domain": [0, 10.5], "nice": false, "zero": false}, "axis": null},
        "y2": {"field": "hi"}
      }
    },
    {
      "data": {"name": "bins"},
      "mark": {"type": "line", "interpolate": "step-after", "color": "#26ff00", "strokeWidth": 3, "clip": true},
      "encoding": {
        "x": {"field": "t", "type": "temporal", "scale": {"domain": [{"year":2025,"month":11,"date":24,"hours":10,"minutes":45,"seconds":37},{"year":2025,"month":12,"date":4,"hours":10,"minutes":45,"seconds":37}]}, "axis": null},
        "y": {"field": "med", "type": "quantitative", "scale": {"domain": [0, 10.5], "nice": false, "zero": false}, "axis": null}
      }
    },
    {
      "data": {"name": "spikes"},
      "transform": [{"filter": "datum.k == 'dark'"}],
      "mark": {"type": "rule", "color": "#1a1a1a", "strokeWidth": 2, "clip": true},
      "encoding": {
        "x": {"field": "t", "type": "temporal", "scale": {"domain": [{"year":2025,"month":11,"date":24,"hours":10,"minutes":45,"seconds":37},{"year":2025,"month":12,"date":4,"hours":10,"minutes":45,"seconds":37}]}, "axis": null},
        "y": {"field": "lo", "type": "quantitative", "scale": {"domain": [0, 10.5], "nice": false, "zero": false}, "axis": null},
        "y2": {"field": "hi"}
      }
    },
    {
      "data": {"name": "spikes"},
      "transform": [{"filter": "isValid(datum.med)"}],
      "mark": {"type": "point", "shape": "square", "filled": true, "size": 10, "color": "#26ff00", "opacity": 1, "clip": true},
      "encoding": {
        "x": {"field": "t", "type": "temporal", "scale": {"domain": [{"year":2025,"month":11,"date":24,"hours":10,"minutes":45,"seconds":37},{"year":2025,"month":12,"date":4,"hours":10,"minutes":45,"seconds":37}]}, "axis": null},
        "y": {"field": "med", "type": "quantitative", "scale": {"domain": [0, 10.5], "nice": false, "zero": false}, "axis": null}
      }
    },
    {
      "data": {"name": "loss"},
      "mark": {"type": "point", "shape": "square", "filled": true, "size": 9, "opacity": 1, "clip": true},
      "encoding": {
        "x": {"field": "t", "type": "temporal", "scale": {"domain": [{"year":2025,"month":11,"date":24,"hours":10,"minutes":45,"seconds":37},{"year":2025,"month":12,"date":4,"hours":10,"minutes":45,"seconds":37}]}, "axis": null},
        "y": {"field": "med", "type": "quantitative", "scale": {"domain": [0, 10.5], "nice": false, "zero": false}, "axis": null},
        "fill": {"field": "loss", "type": "nominal",
          "scale": {"domain": ["0","1/20","2/20","3/20","4/20","10/20","19/20"], "range": ["#26ff00","#00b8ff","#0059ff","#5e00ff","#7e00ff","#dd00ff","#ff0000"]},
          "legend": {"orient": "none", "legendX": 41.5, "legendY": 248, "direction": "horizontal", "title": null, "symbolType": "square", "symbolSize": 64, "symbolStrokeColor": "#000000", "symbolStrokeWidth": 1, "symbolOpacity": 1, "labelFont": "DejaVu Sans Mono", "labelFontSize": 11.65, "labelColor": "#000000", "labelOffset": 5, "columnPadding": 15, "padding": 0}}
      }
    },
    {
      "data": {"name": "arrows"},
      "transform": [{"filter": "datum.dir == 'up'"}],
      "mark": {"type": "point", "shape": "triangle-up", "filled": true, "size": 30, "color": "#a01818", "opacity": 1, "yOffset": -4},
      "encoding": {
        "x": {"field": "t", "type": "temporal", "scale": {"domain": [{"year":2025,"month":11,"date":24,"hours":10,"minutes":45,"seconds":37},{"year":2025,"month":12,"date":4,"hours":10,"minutes":45,"seconds":37}]}, "axis": null},
        "y": {"field": "v", "type": "quantitative", "scale": {"domain": [0, 10.5], "nice": false, "zero": false}, "axis": null}
      }
    },
    {
      "data": {"name": "arrows"},
      "transform": [{"filter": "datum.dir == 'right'"}],
      "mark": {"type": "point", "shape": "triangle-right", "filled": true, "size": 30, "color": "#a01818", "opacity": 1, "xOffset": 4},
      "encoding": {
        "x": {"field": "t", "type": "temporal", "scale": {"domain": [{"year":2025,"month":11,"date":24,"hours":10,"minutes":45,"seconds":37},{"year":2025,"month":12,"date":4,"hours":10,"minutes":45,"seconds":37}]}, "axis": null},
        "y": {"field": "v", "type": "quantitative", "scale": {"domain": [0, 10.5], "nice": false, "zero": false}, "axis": null}
      }
    }
  ],
  "resolve": {"axis": {"x": "independent", "y": "independent"}}
}
